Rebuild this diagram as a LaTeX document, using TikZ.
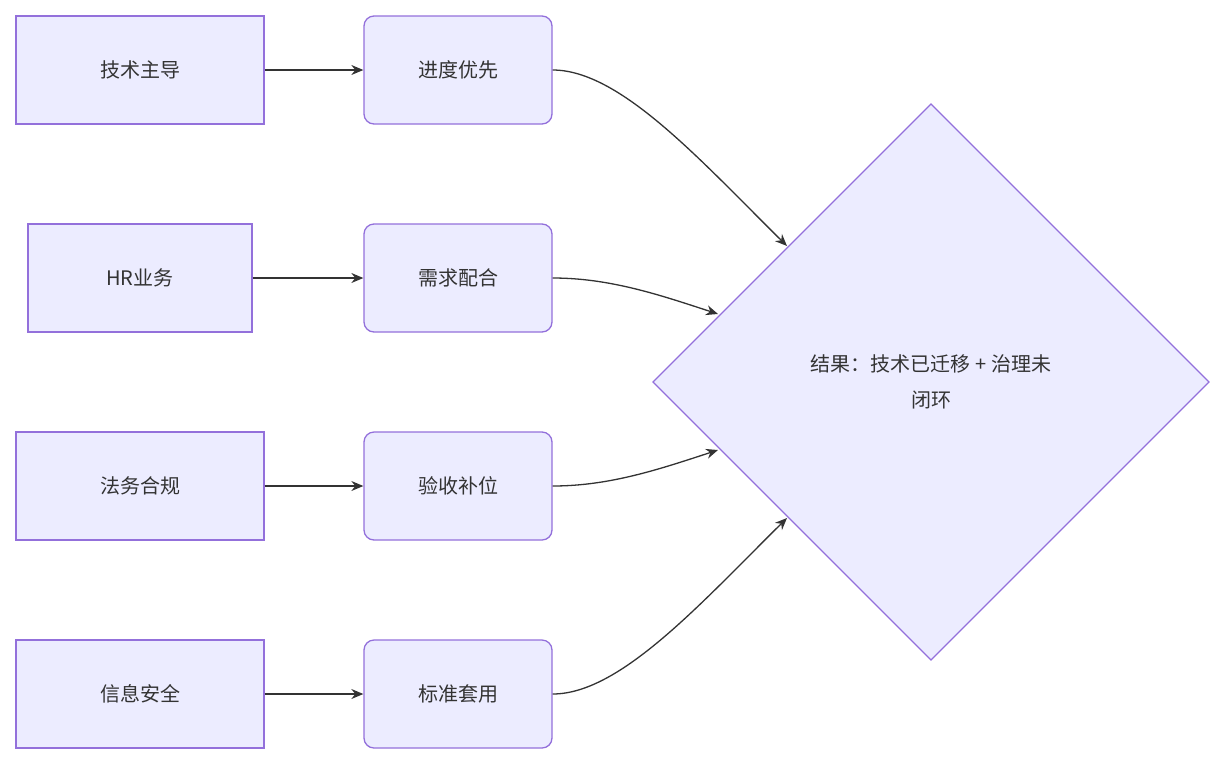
\documentclass[tikz,border=0pt]{standalone}
\usepackage{fontspec}
\setmainfont{Noto Sans CJK SC}
\usetikzlibrary{shapes.geometric,arrows.meta}
\definecolor{nfill}{HTML}{ECECFF}
\definecolor{nline}{HTML}{9370DB}
\definecolor{eline}{HTML}{333333}
\begin{document}
\begin{tikzpicture}[x=1pt,y=-1pt,
  box/.style={draw=nline,fill=nfill,line width=1.3pt,minimum height=108pt,font=\fontsize{20}{24}\selectfont,text=eline},
  rbox/.style={box,rounded corners=10pt,minimum width=188pt},
  arr/.style={draw=eline,line width=1.3pt,-{Stealth[length=12pt,width=10pt]}}]
\useasboundingbox (0,0) rectangle (1225,764);
\node[box,minimum width=248pt] (a1) at (140,70) {技术主导};
\node[box,minimum width=224pt] (a2) at (140,278) {HR业务};
\node[box,minimum width=248pt] (a3) at (140,486) {法务合规};
\node[box,minimum width=248pt] (a4) at (140,694) {信息安全};
\node[rbox] (b1) at (458,70) {进度优先};
\node[rbox] (b2) at (458,278) {需求配合};
\node[rbox] (b3) at (458,486) {验收补位};
\node[rbox] (b4) at (458,694) {标准套用};
\path[draw=nline,fill=nfill,line width=1.3pt] (653,382) -- (931,104) -- (1209,382) -- (931,660) -- cycle;
\node[font=\fontsize{20}{36}\selectfont,text=eline,align=center] (d) at (931,382) {结果：技术已迁移 + 治理未\\闭环};
\coordinate (e1) at (787,246);
\coordinate (e2) at (718,314);
\coordinate (e3) at (718,450);
\coordinate (e4) at (787,518);
\foreach \i in {1,2,3,4} \draw[arr] (a\i) -- (b\i);
\draw[arr] (b1.east) .. controls (620,70) and (700,160) .. (e1);
\draw[arr] (b2.east) .. controls (610,278) and (660,295) .. (e2);
\draw[arr] (b3.east) .. controls (610,486) and (660,469) .. (e3);
\draw[arr] (b4.east) .. controls (620,694) and (700,604) .. (e4);
\end{tikzpicture}
\end{document}
